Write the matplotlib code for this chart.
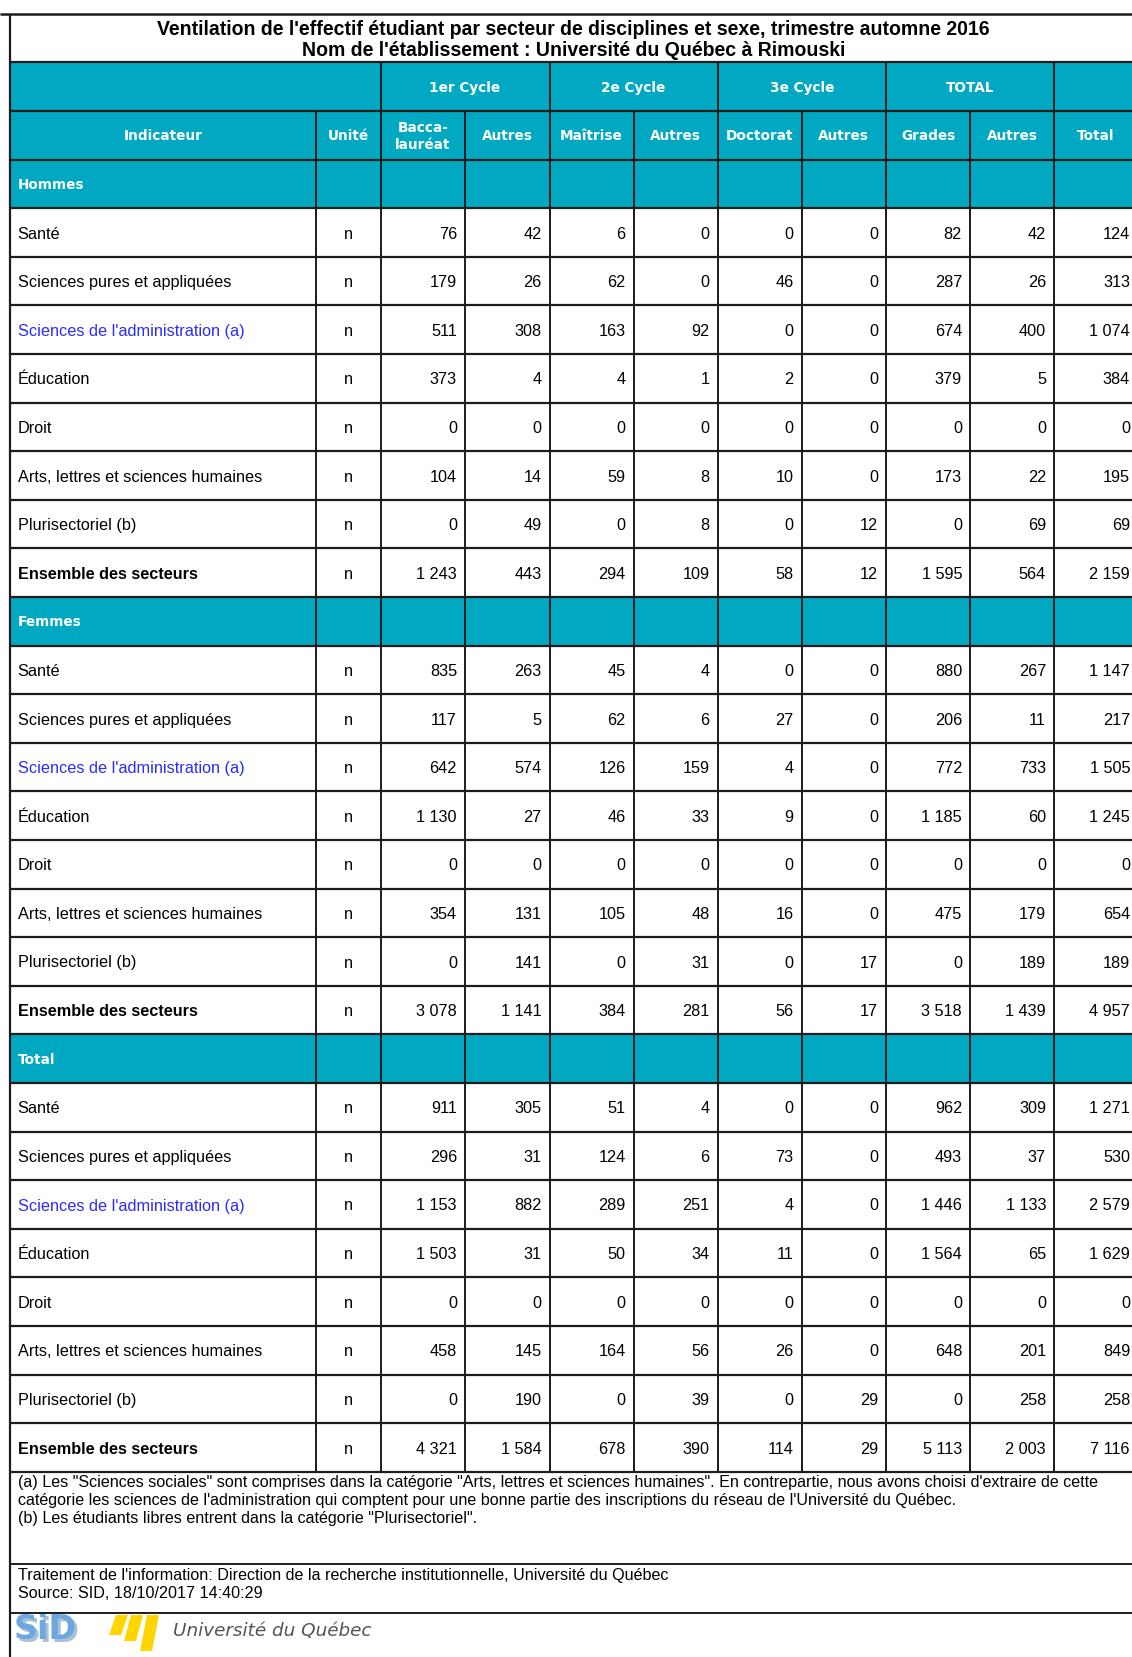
import matplotlib
matplotlib.use('Agg')
import matplotlib.pyplot as plt
from matplotlib import font_manager as fm
from matplotlib.patches import Rectangle, Polygon

# ---------------- data ----------------
title_lines = [
    "Ventilation de l'effectif étudiant par secteur de disciplines et sexe, trimestre automne 2016",
    "Nom de l'établissement : Université du Québec à Rimouski",
]
group_labels = ["1er Cycle", "2e Cycle", "3e Cycle", "TOTAL"]
col_labels = ["Indicateur", "Unité", "Bacca-\nlauréat", "Autres", "Maîtrise", "Autres",
              "Doctorat", "Autres", "Grades", "Autres", "Total"]
sections = ["Hommes", "Femmes", "Total"]
sectors = ["Santé", "Sciences pures et appliquées", "Sciences de l'administration (a)",
           "Éducation", "Droit", "Arts, lettres et sciences humaines",
           "Plurisectoriel (b)", "Ensemble des secteurs"]
unit = "n"

hommes = [
    [76, 42, 6, 0, 0, 0, 82, 42, 124],
    [179, 26, 62, 0, 46, 0, 287, 26, 313],
    [511, 308, 163, 92, 0, 0, 674, 400, 1074],
    [373, 4, 4, 1, 2, 0, 379, 5, 384],
    [0, 0, 0, 0, 0, 0, 0, 0, 0],
    [104, 14, 59, 8, 10, 0, 173, 22, 195],
    [0, 49, 0, 8, 0, 12, 0, 69, 69],
    [1243, 443, 294, 109, 58, 12, 1595, 564, 2159],
]
femmes = [
    [835, 263, 45, 4, 0, 0, 880, 267, 1147],
    [117, 5, 62, 6, 27, 0, 206, 11, 217],
    [642, 574, 126, 159, 4, 0, 772, 733, 1505],
    [1130, 27, 46, 33, 9, 0, 1185, 60, 1245],
    [0, 0, 0, 0, 0, 0, 0, 0, 0],
    [354, 131, 105, 48, 16, 0, 475, 179, 654],
    [0, 141, 0, 31, 0, 17, 0, 189, 189],
    [3078, 1141, 384, 281, 56, 17, 3518, 1439, 4957],
]
total = [
    [911, 305, 51, 4, 0, 0, 962, 309, 1271],
    [296, 31, 124, 6, 73, 0, 493, 37, 530],
    [1153, 882, 289, 251, 4, 0, 1446, 1133, 2579],
    [1503, 31, 50, 34, 11, 0, 1564, 65, 1629],
    [0, 0, 0, 0, 0, 0, 0, 0, 0],
    [458, 145, 164, 56, 26, 0, 648, 201, 849],
    [0, 190, 0, 39, 0, 29, 0, 258, 258],
    [4321, 1584, 678, 390, 114, 29, 5113, 2003, 7116],
]
section_data = [hommes, femmes, total]

footnotes = [
    "(a) Les \"Sciences sociales\" sont comprises dans la catégorie \"Arts, lettres et sciences humaines\". En contrepartie, nous avons choisi d'extraire de cette",
    "catégorie les sciences de l'administration qui comptent pour une bonne partie des inscriptions du réseau de l'Université du Québec.",
    "(b) Les étudiants libres entrent dans la catégorie \"Plurisectoriel\".",
]
source_lines = [
    "Traitement de l'information: Direction de la recherche institutionnelle, Université du Québec",
    "Source: SID, 18/10/2017 14:40:29",
]
logo_mark = "SiD"
logo_text = "Université du Québec"

# ---------------- style / layout ----------------
W, H = 1132, 1658
TEAL = "#00A9C1"
LINE = "#1c1c1c"
BLUE = "#2b2bff"
col_w = [306.5, 64.5, 84.5, 84.5, 84, 84, 84, 84.5, 84, 84, 84]
x0 = 9.5
row_h = 48.6
y_frame_top = 15
y_table_top = 63.4

BODY = "Liberation Sans"
HEAD = "DejaVu Sans"

xs = [x0]
for w in col_w:
    xs.append(xs[-1] + w)

fig = plt.figure(figsize=(W / 100, H / 100), dpi=100)
ax = fig.add_axes([0, 0, 1, 1])
ax.set_xlim(0, W)
ax.set_ylim(H, 0)
ax.axis('off')
renderer = fig.canvas.get_renderer()


def fit_size(text, width, family, weight="normal", style="normal", base=12):
    t = ax.text(0, 0, text, fontsize=base, family=family, weight=weight, style=style)
    bb = t.get_window_extent(renderer=renderer)
    t.remove()
    return base * width / bb.width


def hline(y, xa=0, xb=W, lw=1.6):
    ax.plot([xa, xb], [y, y], color=LINE, lw=lw, solid_capstyle='butt', zorder=5)


def vline(x, ya, yb, lw=1.4):
    ax.plot([x, x], [ya, yb], color=LINE, lw=lw, solid_capstyle='butt', zorder=5)


def fmt(v):
    return f"{v:,}".replace(",", " ")


# ---- title ----
title_fs = fit_size(title_lines[0], 831, BODY, weight="bold")
tcx = (xs[0] + xs[-1]) / 2
ax.text(tcx, 29, title_lines[0], ha='center', va='center', family=BODY,
        weight='bold', fontsize=title_fs, color='black')
ax.text(tcx, 50, title_lines[1], ha='center', va='center', family=BODY,
        weight='bold', fontsize=title_fs, color='black')
hline(y_frame_top, lw=1.8)

# ---- rows structure ----
n_rows = 2 + len(sections) * (1 + len(sectors))
y_rows = [y_table_top + i * row_h for i in range(n_rows + 1)]
y_bottom = y_rows[-1]

# teal header rows
ax.add_patch(Rectangle((xs[0], y_rows[0]), W - xs[0], 2 * row_h, color=TEAL, lw=0, zorder=1))
HFS = 9.8
for g, lab in enumerate(group_labels):
    xa, xb = xs[2 + 2 * g], xs[4 + 2 * g]
    ax.text((xa + xb) / 2, y_rows[0] + row_h / 2, lab, ha='center', va='center',
            family=HEAD, weight='bold', fontsize=HFS, color='white', zorder=6)
for c, lab in enumerate(col_labels):
    ax.text((xs[c] + xs[c + 1]) / 2, y_rows[1] + row_h / 2, lab, ha='center', va='center',
            family=HEAD, weight='bold', fontsize=HFS, color='white', zorder=6,
            linespacing=1.25)

BFS = 11.7
r = 2
for s, sec in enumerate(sections):
    ya = y_rows[r]
    ax.add_patch(Rectangle((xs[0], ya), W - xs[0], row_h, color=TEAL, lw=0, zorder=1))
    ax.text(xs[0] + 8, ya + row_h / 2, sec, ha='left', va='center', family=HEAD,
            weight='bold', fontsize=HFS, color='white', zorder=6)
    r += 1
    for k, name in enumerate(sectors):
        ya = y_rows[r]
        yc = ya + row_h / 2 + 0.5
        bold = 'bold' if k == len(sectors) - 1 else 'normal'
        color = BLUE if "administration" in name else 'black'
        ax.text(xs[0] + 8, yc, name, ha='left', va='center', family=BODY,
                weight=bold, fontsize=BFS, color=color, zorder=6)
        ax.text((xs[1] + xs[2]) / 2, yc, unit, ha='center', va='center', family=BODY,
                fontsize=BFS, color='black', zorder=6)
        for j, v in enumerate(section_data[s][k]):
            ax.text(xs[3 + j] - 8, yc, fmt(v), ha='right', va='center', family=BODY,
                    fontsize=BFS, color='black', zorder=6)
        r += 1

# horizontal lines of table
for y in y_rows:
    hline(y, xs[0], W, lw=1.6)

# vertical lines
vline(xs[0], y_frame_top, H, lw=1.6)
for c in [2, 4, 6, 8, 10]:
    vline(xs[c], y_rows[0], y_bottom)
for c in [1, 3, 5, 7, 9]:
    vline(xs[c], y_rows[1], y_bottom)

# ---- footnotes ----
y_fn_sep = 1565
y_src_sep = 1614
FN_fs = fit_size(footnotes[0], 1081, BODY)
for i, line in enumerate(footnotes):
    ax.text(18, 1482 + i * 18.5, line, ha='left', va='center', family=BODY,
            fontsize=FN_fs, color='black')
hline(y_fn_sep, xs[0], W, lw=1.4)
for i, line in enumerate(source_lines):
    ax.text(18, 1576 + i * 17.5, line, ha='left', va='center', family=BODY,
            fontsize=FN_fs, color='black')
hline(y_src_sep, xs[0], W, lw=1.4)

# ---- logo ----
ax.text(16.5, 1632.5, logo_mark, ha='left', va='center', family="DejaVu Sans", weight='bold',
        fontsize=24, color='#a9bfd6', zorder=3)
ax.text(14, 1630, logo_mark, ha='left', va='center', family="DejaVu Sans", weight='bold',
        fontsize=24, color='#6ea6e0', zorder=4)
for xa, ya, yb in [(116, 1616, 1636), (131, 1616, 1642), (147, 1616, 1652)]:
    ax.add_patch(Polygon([(xa, ya), (xa + 12, ya), (xa + 12 - 7, yb), (xa - 7, yb)],
                         closed=True, color='#FFD500', lw=0, zorder=3))
logo_fs = fit_size(logo_text, 198, "DejaVu Sans", style='italic')
ax.text(173, 1631, logo_text, ha='left', va='center', family="DejaVu Sans", style='italic',
        fontsize=logo_fs, color='#555555')

fig.savefig("out.png", dpi=100)
